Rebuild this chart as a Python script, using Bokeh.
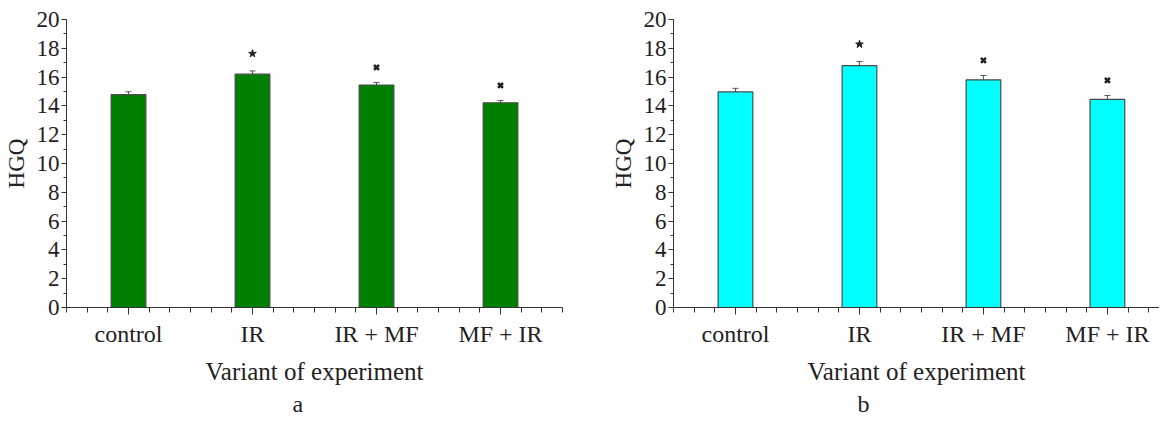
from bokeh.plotting import figure
from bokeh.models import (Range1d, FixedTicker, Whisker, ColumnDataSource, Title, LinearAxis)
from bokeh.layouts import row
from bokeh.embed import file_html
from bokeh.resources import INLINE

categories = ["control", "IR", "IR + MF", "MF + IR"]
values_a = [14.78, 16.2, 15.45, 14.22]
errors_a = [0.2, 0.23, 0.17, 0.15]
marks_a = ["", "star", "x", "x"]
values_b = [14.97, 16.8, 15.81, 14.45]
errors_b = [0.25, 0.28, 0.3, 0.27]
marks_b = ["", "star", "x", "x"]
y_ticks = list(range(0, 21, 2))
panel_letters = ["a", "b"]

FONT = "Liberation Serif"


def make_panel(values, errors, marks, color, letter, x_end, left_border, right_border, top_border, letter_offset):
    n = len(categories)
    xs = [i + 0.5 for i in range(n)]
    p = figure(frame_width=int(round(124 * x_end)), frame_height=288,
               x_range=Range1d(0, x_end), y_range=Range1d(0, 20),
               output_backend="svg", toolbar_location=None,
               min_border_left=left_border, min_border_right=right_border,
               min_border_top=top_border, min_border_bottom=100,
               x_axis_type=None)
    p.outline_line_color = None
    p.xgrid.visible = False
    p.ygrid.visible = False
    p.background_fill_color = "white"
    p.border_fill_color = "white"

    src = ColumnDataSource(dict(x=xs, top=values,
                                upper=[v + e for v, e in zip(values, errors)],
                                lower=[v - e for v, e in zip(values, errors)]))
    p.vbar(x="x", top="top", width=0.28, source=src, fill_color=color,
           line_color="#4a4a4a", line_width=1.2)
    w = Whisker(base="x", upper="upper", lower="lower", source=src,
                line_color="#555555", line_width=1)
    w.upper_head.size = 6
    w.lower_head.size = 6
    w.upper_head.line_color = "#555555"
    w.lower_head.line_color = "#555555"
    p.add_layout(w)

    for x, v, e, m in zip(xs, values, errors, marks):
        if m == "star":
            p.scatter([x], [v + e + 1.2], marker="star", size=8,
                      fill_color="#222222", line_color="#222222")
        elif m == "x":
            p.scatter([x], [v + e + 1.05], marker="x", size=7,
                      line_color="#222222", line_width=2.6)

    xa = LinearAxis(ticker=FixedTicker(ticks=xs,
                                       minor_ticks=[k / 6 for k in range(0, int(x_end * 6) + 1)]))
    xa.major_label_overrides = {x: c for x, c in zip(xs, categories)}
    xa.axis_label = "Variant of experiment"
    p.add_layout(xa, "below")

    ya = p.yaxis[0]
    ya.ticker = FixedTicker(ticks=y_ticks, minor_ticks=list(range(0, 21)))
    ya.axis_label = "HGQ"

    for ax in (xa, ya):
        ax.axis_line_color = "#333333"
        ax.major_tick_line_color = "#333333"
        ax.minor_tick_line_color = "#333333"
        ax.major_tick_in = 0
        ax.minor_tick_in = 0
        ax.major_label_text_font = FONT
        ax.axis_label_text_font = FONT
        ax.axis_label_text_font_style = "normal"
        ax.major_label_text_color = "#222222"
        ax.axis_label_text_color = "#222222"
    xa.major_tick_out = 7
    xa.minor_tick_out = 5
    xa.major_label_text_font_size = "24px"
    xa.axis_label_text_font_size = "25px"
    xa.major_label_standoff = 6
    xa.axis_label_standoff = 8
    ya.major_tick_out = 5
    ya.minor_tick_out = 3
    ya.major_label_text_font_size = "23px"
    ya.axis_label_text_font_size = "23px"
    ya.major_label_standoff = 2
    ya.axis_label_standoff = 5

    t = Title(text=letter, align="left", offset=letter_offset, text_font=FONT,
              text_font_size="24px", text_font_style="normal", text_color="#222222",
              standoff=2)
    p.add_layout(t, "below")
    return p


pa = make_panel(values_a, errors_a, marks_a, "#008000", panel_letters[0], 4.0, 61, 45, 17, 226)
pb = make_panel(values_b, errors_b, marks_b, "#00FFFF", panel_letters[1], 3.92, 62, 0, 19, 184)

layout = row(pa, pb, spacing=0)
open("out.html", "w").write(file_html(layout, INLINE))
